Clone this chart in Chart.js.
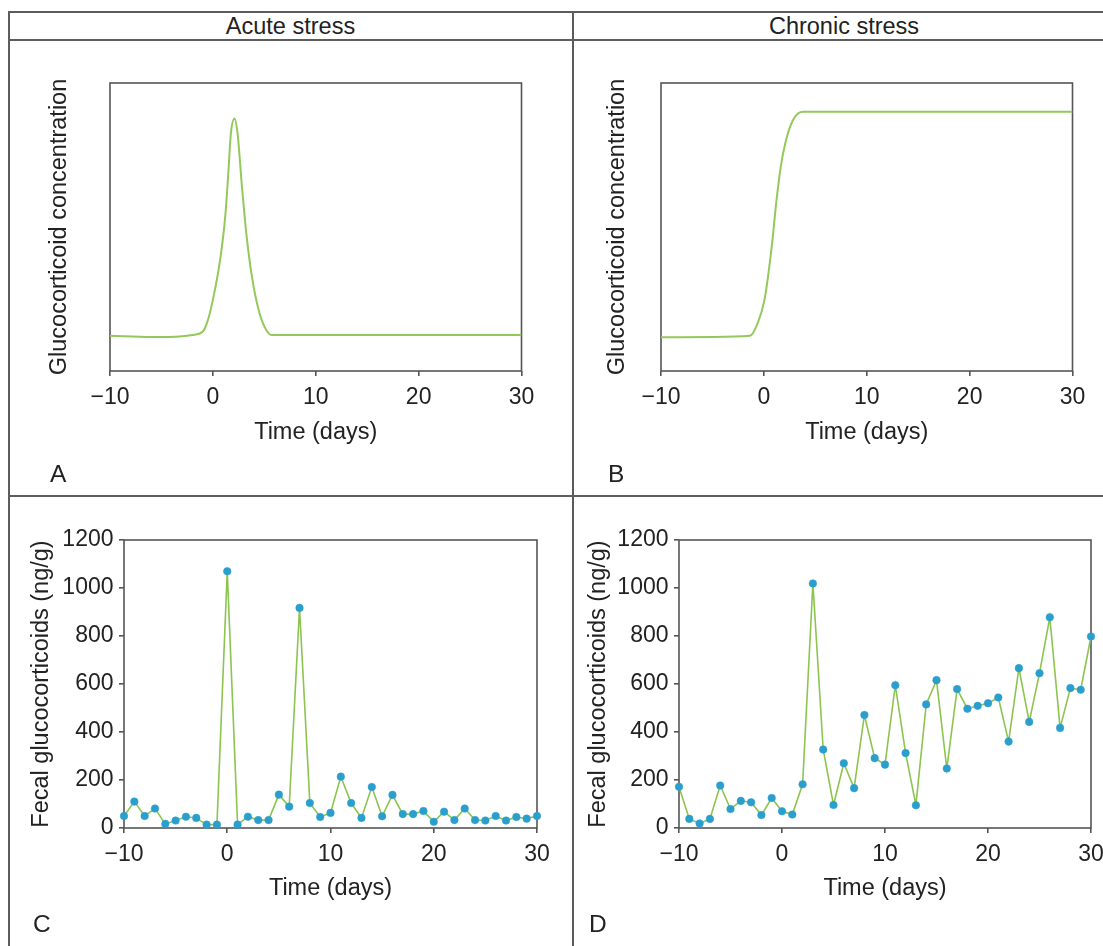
<!DOCTYPE html>
<html>
<head>
<meta charset="utf-8">
<title>Glucocorticoid profiles under acute and chronic stress</title>
<script src="https://cdn.jsdelivr.net/npm/chart.js@4.4.1/dist/chart.umd.min.js"></script>
<style>
  html, body { margin: 0; padding: 0; background: #fff; overflow: hidden; }
  body { width: 1103px; height: 946px; position: relative; font-family: 'Liberation Sans', Arial, sans-serif; color: #222; }
  .rule { position: absolute; background: #5c5c5c; }
  .head, .tag { position: absolute; font-size: 23.5px; line-height: 23.5px; white-space: nowrap; }
  .tag { font-size: 24.5px; }
  .head { text-align: center; }
  canvas { position: absolute; }
</style>
</head>
<body>
<div class="rule" style="left:8px; top:11px; width:1100px; height:2px;"></div>
<div class="rule" style="left:8px; top:39px; width:1100px; height:2px;"></div>
<div class="rule" style="left:8px; top:495px; width:1100px; height:2px;"></div>
<div class="rule" style="left:8px; top:11px; width:2px; height:935px;"></div>
<div class="rule" style="left:572px; top:11px; width:2px; height:935px;"></div>

<div class="head" style="left:9px; top:15px; width:563px;">Acute stress</div>
<div class="head" style="left:574px; top:15px; width:540px;">Chronic stress</div>

<canvas id="panelA"></canvas>
<canvas id="panelB"></canvas>
<canvas id="panelC"></canvas>
<canvas id="panelD"></canvas>

<div class="tag" style="left:50px; top:462px;">A</div>
<div class="tag" style="left:608px; top:462px;">B</div>
<div class="tag" style="left:33px; top:912px;">C</div>
<div class="tag" style="left:589px; top:912px;">D</div>

<script>
// model curves, arbitrary units (no y tick labels on these panels)
const acuteDays  = [-10, -6, -3, -2, -1, -0.5, 0, 0.7, 1.2, 1.5, 1.75, 2.1, 2.4, 2.8, 3.25, 3.8, 4.45, 5.1, 5.7, 10, 20, 30];
const acuteLevel = [12.2, 11.8, 12.1, 12.5, 13.6, 17.5, 24.7, 38.5, 53.6, 68.6, 82.5, 87.7, 82.5, 65.2, 47.8, 32.7, 21.2, 14.8, 12.5, 12.5, 12.5, 12.5];

const chronicDays  = [-10, -5, -1.35, -0.6, 0.06, 0.4, 0.8, 1.23, 1.64, 2.08, 2.68, 3.35, 3.86, 10, 20, 30];
const chronicLevel = [11.7, 11.8, 12.2, 16.6, 24.7, 32.7, 44.3, 59.4, 70.9, 79.1, 86.0, 89.5, 90.0, 90.0, 90.0, 90.0];

// fecal samples, one per day (ng/g)
const sampleDays = [-10, -9, -8, -7, -6, -5, -4, -3, -2, -1, 0, 1, 2, 3, 4, 5, 6, 7, 8, 9, 10,
                    11, 12, 13, 14, 15, 16, 17, 18, 19, 20, 21, 22, 23, 24, 25, 26, 27, 28, 29, 30];
const acuteFecal = [50, 110, 50, 81, 17, 31, 47, 42, 14, 14, 1070, 14, 47, 33, 33, 139, 89, 917, 104, 46, 63,
                    214, 104, 42, 171, 49, 138, 58, 58, 71, 26, 68, 33, 81, 33, 31, 50, 31, 46, 39, 50];
const chronicFecal = [172, 38, 19, 38, 177, 79, 113, 107, 54, 125, 70, 56, 182, 1019, 327, 96, 270, 166, 471, 291, 264,
                      595, 312, 95, 515, 616, 248, 579, 497, 509, 520, 544, 360, 666, 442, 645, 878, 417, 583, 576, 798];

const xTicks = [-10, 0, 10, 20, 30];
const fecalTicks = [0, 200, 400, 600, 800, 1000, 1200];

const INK = '#222';
const AXIS = '#555';
const CURVE = '#93c85b';
const TRACE = '#8cc44f';
const DOT = '#2a9fce';
const FONT = 'Liberation Sans, Arial, sans-serif';
const TITLE_SIZE = 23.5;
const TICK_SIZE = 23;

const minus = v => String(v).replace('-', '\u2212');
const pairs = (xs, ys) => xs.map((x, i) => ({ x: x, y: ys[i] }));

const framePlugin = {
  id: 'frame',
  beforeDatasetsDraw(chart) {
    const { ctx, chartArea: a } = chart;
    ctx.save();
    ctx.strokeStyle = AXIS;
    ctx.lineWidth = 1.6;
    ctx.strokeRect(a.left, a.top, a.right - a.left, a.bottom - a.top);
    ctx.restore();
  }
};

// box = canvas rect on page, area = wanted plot rect on page
function makePanel(id, box, area, yTitleX, xTitleY, dataset, yAxis) {
  const cv = document.getElementById(id);
  cv.width = box.w;
  cv.height = box.h;
  cv.style.left = box.x + 'px';
  cv.style.top = box.y + 'px';
  const half = TITLE_SIZE * 1.2 / 2;
  const yW = area.l - box.x;
  const xH = box.y + box.h - area.b;

  return new Chart(cv, {
    type: 'line',
    data: { datasets: [dataset] },
    options: {
      responsive: false,
      animation: false,
      events: [],
      layout: { padding: { left: 0, top: area.t - box.y, right: box.x + box.w - area.r, bottom: 0 } },
      plugins: { legend: { display: false }, tooltip: { enabled: false } },
      scales: {
        x: {
          type: 'linear', min: -10, max: 30,
          afterBuildTicks: s => { s.ticks = xTicks.map(v => ({ value: v })); },
          afterFit: s => { s.height = xH; },
          border: { display: false },
          grid: { drawOnChartArea: false, drawTicks: true, tickLength: 5, color: AXIS, lineWidth: 1.6 },
          ticks: { padding: 7.5, color: INK, font: { family: FONT, size: TICK_SIZE }, callback: v => minus(v) },
          title: {
            display: true, text: 'Time (days)', color: INK,
            font: { family: FONT, size: TITLE_SIZE },
            padding: { top: 0, bottom: box.y + box.h - xTitleY - half }
          }
        },
        y: Object.assign({
          afterFit: s => { s.width = yW; },
          border: { display: false }
        }, yAxis, {
          title: {
            display: true, text: yAxis.titleText, color: INK,
            font: { family: FONT, size: TITLE_SIZE },
            padding: { top: yTitleX - box.x - half, bottom: 0 }
          }
        })
      }
    },
    plugins: [framePlugin]
  });
}

const modelAxis = {
  titleText: 'Glucocorticoid concentration',
  min: 0, max: 100,
  grid: { display: false },
  ticks: { display: false }
};

const fecalAxis = {
  titleText: 'Fecal glucocorticoids (ng/g)',
  min: 0, max: 1200,
  afterBuildTicks: s => { s.ticks = fecalTicks.map(v => ({ value: v })); },
  grid: { drawOnChartArea: false, drawTicks: true, tickLength: 5, color: AXIS, lineWidth: 1.6 },
  ticks: { padding: 5.5, color: INK, font: { family: FONT, size: TICK_SIZE }, callback: v => String(v) }
};

function curveSet(xs, ys) {
  return {
    data: pairs(xs, ys),
    borderColor: CURVE,
    borderWidth: 2,
    pointRadius: 0,
    cubicInterpolationMode: 'monotone'
  };
}

function sampleSet(ys) {
  return {
    data: pairs(sampleDays, ys),
    borderColor: TRACE,
    borderWidth: 1.6,
    tension: 0,
    pointRadius: 3.8,
    pointBackgroundColor: DOT,
    pointBorderColor: DOT,
    pointBorderWidth: 0.5,
    clip: false
  };
}

makePanel('panelA', { x: 10, y: 41, w: 562, h: 454 }, { l: 110, t: 83, r: 521.5, b: 371 },
  59.5, 432.3, curveSet(acuteDays, acuteLevel), modelAxis);
makePanel('panelB', { x: 574, y: 41, w: 529, h: 454 }, { l: 661, t: 83, r: 1072.5, b: 371 },
  617.4, 432.3, curveSet(chronicDays, chronicLevel), modelAxis);
makePanel('panelC', { x: 10, y: 497, w: 562, h: 449 }, { l: 124, t: 540, r: 537, b: 828 },
  42, 888.4, sampleSet(acuteFecal), fecalAxis);
makePanel('panelD', { x: 574, y: 497, w: 560, h: 449 }, { l: 679, t: 540, r: 1091, b: 828 },
  598.6, 888.4, sampleSet(chronicFecal), fecalAxis);
</script>
</body>
</html>
